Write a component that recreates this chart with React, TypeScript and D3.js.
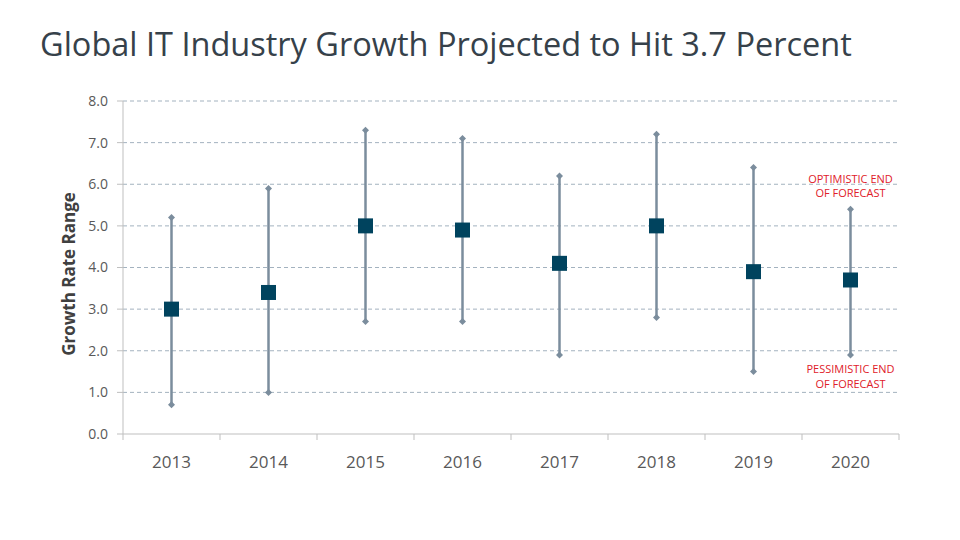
import React from "react";
import * as d3 from "d3";

const years = ["2013", "2014", "2015", "2016", "2017", "2018", "2019", "2020"];
const highs = [5.2, 5.9, 7.3, 7.1, 6.2, 7.2, 6.4, 5.4];
const lows = [0.7, 1.0, 2.7, 2.7, 1.9, 2.8, 1.5, 1.9];
const mids = [3.0, 3.4, 5.0, 4.9, 4.1, 5.0, 3.9, 3.7];
const yTicks = [0, 1, 2, 3, 4, 5, 6, 7, 8];

const W = 960, H = 540;
const L = 123, R = 899, T = 101, B = 434;

export default function App() {
  const x = d3.scaleBand().domain(years).range([L, R]);
  const y = d3.scaleLinear().domain([0, 8]).range([B, T]);
  const font = "'Open Sans', sans-serif";
  const grid = "#a3b2bf";
  const whisker = "#7b8d9d";
  const sq = 15;
  const last = years.length - 1;
  const lx = (x(years[last]) as number) + x.bandwidth() / 2;
  return (
    <svg width={W} height={H} style={{ position: "absolute", left: 0, top: 0, background: "#fff" }} fontFamily={font}>
      <text x={40} y={56} fontSize={32.5} fill="#36414a">Global IT Industry Growth Projected to Hit 3.7 Percent</text>
      {yTicks.map((t) => (
        <g key={t}>
          {t > 0 && (
            <line x1={L} x2={R} y1={y(t)} y2={y(t)} stroke={grid} strokeWidth={1} strokeDasharray="4,3" />
          )}
          <line x1={L - 6} x2={L} y1={y(t)} y2={y(t)} stroke="#bfbfbf" />
          <text x={L - 15} y={y(t)} dy="0.35em" textAnchor="end" fontSize={14} fill="#595959">{t.toFixed(1)}</text>
        </g>
      ))}
      <line x1={L} x2={L} y1={T} y2={B} stroke="#bfbfbf" />
      <line x1={L} x2={R} y1={B} y2={B} stroke="#bfbfbf" />
      {years.map((yr, i) => (
        <line key={"t" + yr} x1={L + i * x.bandwidth()} x2={L + i * x.bandwidth()} y1={B} y2={B + 6} stroke="#bfbfbf" />
      ))}
      <line x1={R} x2={R} y1={B} y2={B + 6} stroke="#bfbfbf" />
      {years.map((yr) => (
        <text key={"l" + yr} x={(x(yr) as number) + x.bandwidth() / 2} y={468} textAnchor="middle" fontSize={17} fill="#595959">{yr}</text>
      ))}
      <text transform={`translate(75,274) rotate(-90)`} textAnchor="middle" fontSize={17} fontWeight="bold" fill="#404040">Growth Rate Range</text>
      {years.map((yr, i) => {
        const cx = (x(yr) as number) + x.bandwidth() / 2;
        const d = 3.5;
        return (
          <g key={"m" + yr}>
            <line x1={cx} x2={cx} y1={y(highs[i])} y2={y(lows[i])} stroke={whisker} strokeWidth={2.5} />
            {[highs[i], lows[i]].map((v, j) => (
              <path key={j} d={`M${cx},${y(v) - d}L${cx + d},${y(v)}L${cx},${y(v) + d}L${cx - d},${y(v)}Z`} fill={whisker} />
            ))}
            <rect x={cx - sq / 2} y={y(mids[i]) - sq / 2} width={sq} height={sq} fill="#00435e" />
          </g>
        );
      })}
      <g fontSize={11} fill="#e0202a" textAnchor="middle">
        <text x={lx} y={183}>OPTIMISTIC END</text>
        <text x={lx} y={197}>OF FORECAST</text>
        <text x={lx} y={373}>PESSIMISTIC END</text>
        <text x={lx} y={388}>OF FORECAST</text>
      </g>
    </svg>
  );
}
